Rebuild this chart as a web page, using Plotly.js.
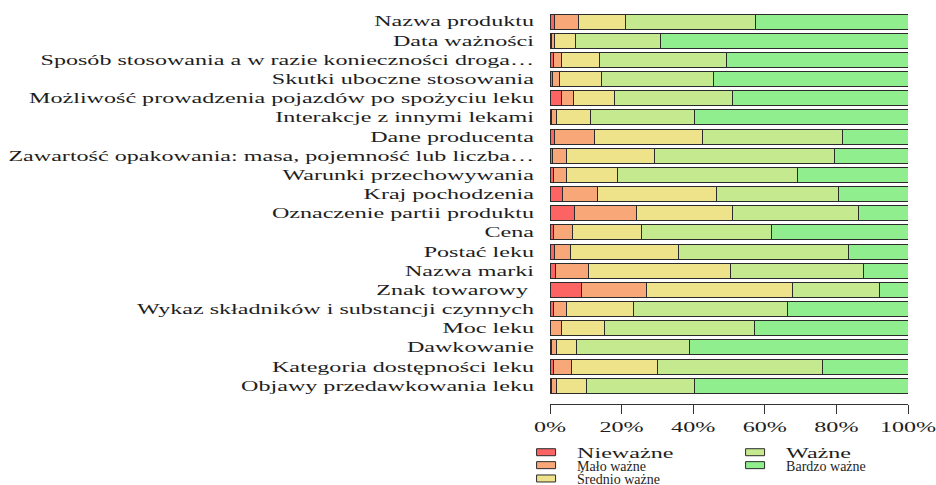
<!DOCTYPE html>
<html>
<head>
<meta charset="utf-8">
<script src="https://cdn.plot.ly/plotly-3.0.1.min.js"></script>
<style>
html,body{margin:0;padding:0;background:#fff;}
#chart{width:936px;height:485px;}
</style>
</head>
<body>
<div id="chart"></div>
<script>
const categories = [
  "Nazwa produktu",
  "Data ważności",
  "Sposób stosowania a w razie konieczności droga…",
  "Skutki uboczne stosowania",
  "Możliwość prowadzenia pojazdów po spożyciu leku",
  "Interakcje z innymi lekami",
  "Dane producenta",
  "Zawartość opakowania: masa, pojemność lub liczba…",
  "Warunki przechowywania",
  "Kraj pochodzenia",
  "Oznaczenie partii produktu",
  "Cena",
  "Postać leku",
  "Nazwa marki",
  "Znak towarowy\u00a0",
  "Wykaz składników i substancji czynnych",
  "Moc leku",
  "Dawkowanie",
  "Kategoria dostępności leku",
  "Objawy przedawkowania leku"
];
const seriesNames = ["Nieważne", "Mało ważne", "Średnio ważne", "Ważne", "Bardzo ważne"];
const niewazne  = [1.2, 0.4, 1.0, 0.6, 3.2, 0.4, 1.2, 0.8, 1.0, 3.5, 6.8, 1.0, 1.3, 1.4, 8.9, 1.0, 0.0, 0.4, 1.0, 0.4];
const maloWazne = [6.8, 0.8, 2.1, 2.0, 3.5, 1.4, 11.3, 3.7, 3.5, 9.9, 17.4, 5.3, 4.5, 9.4, 18.1, 3.5, 3.2, 1.4, 4.9, 1.4];
const srednio   = [13.1, 5.9, 10.8, 11.7, 11.3, 9.5, 30.1, 24.6, 14.3, 33.1, 26.9, 19.3, 30.1, 39.5, 40.8, 18.8, 12.1, 5.5, 24.1, 8.4];
const wazne     = [36.3, 23.7, 35.3, 31.4, 33.1, 29.1, 39.1, 50.3, 50.4, 34.2, 35.1, 36.3, 47.6, 37.2, 24.2, 43.1, 41.7, 31.8, 46.0, 30.2];
const bardzo    = [42.6, 69.2, 50.8, 54.3, 48.9, 59.6, 18.3, 20.6, 30.8, 19.3, 13.8, 38.1, 16.5, 12.5, 8.0, 33.6, 43.0, 60.9, 24.0, 59.6];
const tickVals  = [0, 20, 40, 60, 80, 100];
const tickText  = ["0%", "20%", "40%", "60%", "80%", "100%"];

const colors = ["#FC6464", "#F8A878", "#EEE38A", "#C5E98E", "#90EE8F"];
const legendIds = ["legend", "legend2", "legend3", "legend", "legend2"];
const values = [niewazne, maloWazne, srednio, wazne, bardzo];

const FONT = "Liberation Serif, Times New Roman, serif";

const traces = values.map((v, i) => ({
  type: "bar",
  orientation: "h",
  name: seriesNames[i],
  x: v,
  y: categories,
  legend: legendIds[i],
  marker: {color: colors[i], line: {color: "#2b2b2b", width: 1}},
  hoverinfo: "name+x"
}));

function legendCfg(y) {
  return {
    orientation: "h",
    traceorder: "normal",
    xanchor: "left",
    yanchor: "middle",
    x: -0.064,
    y: y,
    itemwidth: 40,
    entrywidth: 154,
    entrywidthmode: "pixels",
    bgcolor: "rgba(0,0,0,0)",
    borderwidth: 0,
    font: {family: FONT, size: 14, color: "#1e1e1e"}
  };
}

const layout = {
  width: 936,
  height: 485,
  font: {family: FONT, size: 14, color: "#1e1e1e"},
  margin: {l: 550, r: 28, t: 12, b: 81, autoexpand: false},
  paper_bgcolor: "#ffffff",
  plot_bgcolor: "#ffffff",
  barmode: "stack",
  bargap: 0.22,
  showlegend: true,
  legend: legendCfg(-0.124),
  legend2: legendCfg(-0.157),
  legend3: legendCfg(-0.191),
  xaxis: {
    range: [0, 100],
    tickvals: tickVals,
    ticktext: tickText,
    showgrid: false,
    zeroline: false,
    showline: true,
    linecolor: "#333",
    linewidth: 1,
    ticks: "outside",
    ticklen: 9,
    tickwidth: 1,
    tickcolor: "#333",
    ticklabelstandoff: 1,
    tickfont: {family: FONT, size: 14, color: "#1e1e1e"},
    fixedrange: true
  },
  yaxis: {
    type: "category",
    categoryorder: "array",
    categoryarray: categories,
    range: [19.95, -0.5],
    showgrid: false,
    zeroline: false,
    showline: false,
    ticks: "",
    ticklabelstandoff: 15,
    tickfont: {family: FONT, size: 14, color: "#1e1e1e"},
    fixedrange: true
  }
};

function stretchTexts() {
  const sel = document.querySelectorAll('#chart .ytick text, #chart .xtick text, #chart .legendtext');
  sel.forEach(t => {
    const key = t.textContent + '|' + (t.getAttribute('style') || '');
    if (t.getAttribute('data-str') === key) return;
    t.removeAttribute('textLength');
    const w = t.getComputedTextLength();
    if (w > 0) {
      t.setAttribute('textLength', (w * 1.72).toFixed(1));
      t.setAttribute('lengthAdjust', 'spacingAndGlyphs');
      t.setAttribute('data-str', key);
    }
  });
  document.querySelectorAll('#chart .legendpoints path').forEach(p => {
    if (p.getAttribute('d') !== 'M3.5,3.5H-15.5V-3.5H3.5Z') {
      p.setAttribute('d', 'M3.5,3.5H-15.5V-3.5H3.5Z');
    }
  });
}

const chartEl = document.getElementById('chart');
const observer = new MutationObserver(() => { stretchTexts(); });
observer.observe(chartEl, {childList: true, subtree: true, characterData: true});

Plotly.newPlot('chart', traces, layout, {displayModeBar: false, staticPlot: true}).then(() => {
  stretchTexts();
  let n = 0;
  const iv = setInterval(() => { stretchTexts(); if (++n > 80) clearInterval(iv); }, 10);
  requestAnimationFrame(stretchTexts);
});
</script>
</body>
</html>
